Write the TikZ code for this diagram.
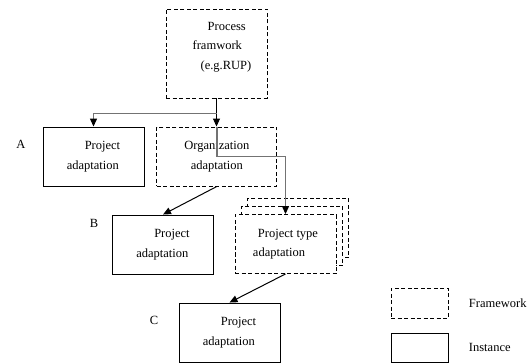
\documentclass[tikz,border=0pt]{standalone}
\usepackage{fontspec}
\setmainfont{Liberation Serif}
\usetikzlibrary{arrows.meta,positioning}

\begin{document}
\begin{tikzpicture}[x=1pt,y=-1pt,->,>={Triangle[length=8pt,width=7pt,color=black]},line width=1pt,
  font=\fontsize{12.5}{19.5}\selectfont,
  fwbox/.style={draw,-,line width=0.9pt,dash pattern=on 4pt off 2.5pt,fill=white,
                minimum width=101pt,minimum height=59pt,inner sep=0pt,align=left},
  instbox/.style={fwbox,solid},
  tag/.style={inner sep=0pt},
  link/.style={black!55,line width=1.2pt}]
 \useasboundingbox (0,0) rectangle (532,363);

 % frameworks and instances
 \node[fwbox,minimum height=89pt]     (proc) at (216.5,53.5) {};
 \node[tag,align=left]                (proctxt) at (222,47)
      {\hspace*{15pt}Process\\framwork\\\hspace*{8pt}(e.g.RUP)};
 \node[instbox]                       (instA) at (93.5,156.5) {\hspace*{18pt}Project\\adaptation};
 \node[fwbox,minimum width=120pt,align=center] (org) [right=12pt of instA] {Organization\\adaptation};
 \node[instbox]                       (instB) at (163,244.5) {\hspace*{18pt}Project\\adaptation};
 \node[fwbox]                         (ptback) at (298,228) {};
 \node[fwbox]                         (ptmid)  at (292,236) {};
 \node[fwbox]                         (ptype)  at (285.5,244) {\hspace*{5pt}Project type\\adaptation};
 \node[instbox]                       (instC) at (229.5,332.5) {\hspace*{18pt}Project\\adaptation};

 \node[tag] (labA) at (21,144) {A};
 \node[tag] (labB) at (94,223) {B};
 \node[tag] (labC) at (154,320) {C};

 % legend
 \node[fwbox,minimum width=57pt,minimum height=30pt]   (keyfw)   at (419.5,303) {};
 \node[instbox,minimum width=57pt,minimum height=29pt] (keyinst) at (419.5,347.5) {};
 \node[tag] (keyfwtxt)   [right=20pt of keyfw]   {Framework};
 \node[tag] (keyinsttxt) [right=20pt of keyinst] {Instance};

 % connectors
 \draw (proc.south) -- (proc.south |- org.north);
 \draw[link] (proc.south) ++(0,15) -| (instA.north);
 \draw[link] (org.north) -- ++(0,30) -| (ptype.north);
 \draw (org.south) -- (instB.north);
 \draw (ptype.south) -- (instC.north);
\end{tikzpicture}
\end{document}
